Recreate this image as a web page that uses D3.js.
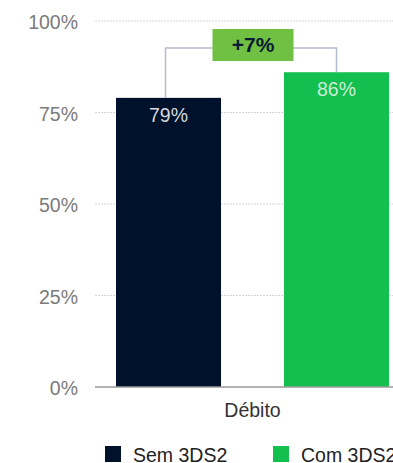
<!DOCTYPE html>
<html><head><meta charset="utf-8">
<script src="https://cdn.jsdelivr.net/npm/d3@7"></script>
<style>body{margin:0;background:#fff}svg{display:block;font-family:"Liberation Sans",Arial,Helvetica,sans-serif}</style>
</head><body><svg id="c" width="393" height="463"></svg>
<script>
const categories = ["Débito"];
const seriesNames = ["Sem 3DS2", "Com 3DS2"];
const seriesValues = [79, 86];
const tickValues = [0, 25, 50, 75, 100];
const tickLabels = ["0%", "25%", "50%", "75%", "100%"];
const diffLabel = "+7%";
const colors = ["#00112b", "#12bf4f"];

const svg = d3.select("#c");
const y = d3.scaleLinear().domain([0, 100]).range([387, 21]);
const x0 = d3.scaleBand().domain(categories).range([95, 410]).paddingInner(0).paddingOuter(0);
const x1 = d3.scaleBand().domain(seriesNames).range([21, 294]).paddingInner(0.375).paddingOuter(0);

// gridlines
svg.append("g").selectAll("line").data(tickValues.filter(d => d > 0)).join("line")
  .attr("x1", 95).attr("x2", 393).attr("y1", d => y(d)).attr("y2", d => y(d))
  .attr("stroke", "#d4d4d4").attr("stroke-width", 1).attr("stroke-dasharray", "2,1");

// y tick labels
svg.append("g").selectAll("text").data(tickValues).join("text")
  .attr("x", 78).attr("y", d => y(d) + 8).attr("text-anchor", "end")
  .attr("fill", "#7a7a7a").attr("font-size", 19.5).text((d, i) => tickLabels[i]);

// bars
const gx = x0(categories[0]);
svg.append("g").selectAll("rect").data(seriesValues).join("rect")
  .attr("x", (d, i) => gx + x1(seriesNames[i])).attr("width", x1.bandwidth())
  .attr("y", d => y(d)).attr("height", d => y(0) - y(d))
  .attr("fill", (d, i) => colors[i]);

// baseline
svg.append("line").attr("x1", 95).attr("x2", 393).attr("y1", y(0)).attr("y2", y(0))
  .attr("stroke", "#9a9a9a").attr("stroke-width", 1.5);

// value labels
svg.append("g").selectAll("text").data(seriesValues).join("text")
  .attr("x", (d, i) => gx + x1(seriesNames[i]) + x1.bandwidth() / 2)
  .attr("y", d => y(d) + 24).attr("text-anchor", "middle")
  .attr("fill", (d, i) => i === 0 ? "#d6d9de" : "#cdeed6").attr("font-size", 19.5)
  .text(d => d + "%");

// bracket
const c1 = gx + x1(seriesNames[0]) + x1.bandwidth() / 2 - 3;
const c2 = gx + x1(seriesNames[1]) + x1.bandwidth() / 2;
const by = y(100) + 27;
svg.append("path")
  .attr("d", `M${c1},${y(seriesValues[0])}V${by}H${c2}V${y(seriesValues[1])}`)
  .attr("fill", "none").attr("stroke", "#b3bccb").attr("stroke-width", 1.5);
const mid = (c1 + c2) / 2 + 2;
svg.append("rect").attr("x", mid - 40.5).attr("y", by - 19).attr("width", 81).attr("height", 32)
  .attr("fill", "#70c043");
svg.append("text").attr("x", mid).attr("y", by + 4).attr("text-anchor", "middle")
  .attr("font-size", 21).attr("font-weight", "bold").attr("fill", "#0b1a33").text(diffLabel);

// category label
svg.append("text").attr("x", gx + x0.bandwidth() / 2).attr("y", 417)
  .attr("text-anchor", "middle").attr("fill", "#333").attr("font-size", 19.5).text(categories[0]);

// legend
const legX = [105, 273];
const leg = svg.append("g").selectAll("g").data(seriesNames).join("g")
  .attr("transform", (d, i) => `translate(${legX[i]},446)`);
leg.append("rect").attr("width", 16).attr("height", 16).attr("fill", (d, i) => colors[i]);
leg.append("text").attr("x", 28).attr("y", 15.5).attr("font-size", 19.5)
  .attr("fill", "#222").text(d => d);
</script></body></html>
